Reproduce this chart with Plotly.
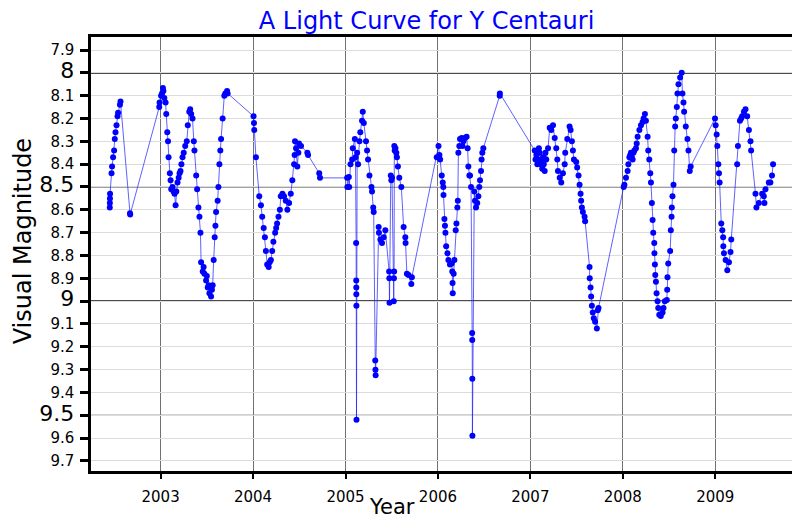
import plotly.graph_objects as go

# ---- observations (decimal year, visual magnitude) grouped by season ----
obs_2002 = [(2002.450, 8.59), (2002.451, 8.57), (2002.452, 8.55), (2002.453, 8.53),
            (2002.469, 8.44), (2002.475, 8.41), (2002.486, 8.37), (2002.497, 8.34),
            (2002.504, 8.29), (2002.512, 8.26), (2002.523, 8.23), (2002.534, 8.19),
            (2002.540, 8.175), (2002.560, 8.14), (2002.566, 8.126),
            (2002.669, 8.615), (2002.671, 8.62)]

obs_2003 = [(2002.985, 8.15), (2002.989, 8.13), (2003.005, 8.10), (2003.015, 8.09),
            (2003.025, 8.066), (2003.030, 8.08), (2003.040, 8.11), (2003.054, 8.13),
            (2003.061, 8.18), (2003.072, 8.26), (2003.080, 8.30), (2003.086, 8.37),
            (2003.100, 8.44), (2003.108, 8.47), (2003.115, 8.51), (2003.129, 8.50),
            (2003.140, 8.52), (2003.151, 8.53), (2003.162, 8.58), (2003.170, 8.52),
            (2003.183, 8.48), (2003.195, 8.46), (2003.205, 8.44), (2003.215, 8.43),
            (2003.225, 8.40), (2003.237, 8.37), (2003.250, 8.35), (2003.266, 8.32),
            (2003.283, 8.30), (2003.294, 8.23), (2003.310, 8.17), (2003.320, 8.16),
            (2003.331, 8.18), (2003.345, 8.20), (2003.359, 8.30), (2003.366, 8.34),
            (2003.385, 8.45), (2003.395, 8.51), (2003.409, 8.59), (2003.420, 8.63),
            (2003.431, 8.70), (2003.438, 8.83), (2003.456, 8.87), (2003.465, 8.85),
            (2003.474, 8.88), (2003.492, 8.91), (2003.500, 8.89), (2003.510, 8.94),
            (2003.520, 8.93), (2003.528, 8.965), (2003.546, 8.98), (2003.555, 8.95),
            (2003.563, 8.93), (2003.574, 8.82), (2003.585, 8.72), (2003.593, 8.67),
            (2003.600, 8.61), (2003.617, 8.56), (2003.625, 8.50), (2003.636, 8.40),
            (2003.646, 8.34), (2003.654, 8.29), (2003.671, 8.20), (2003.689, 8.10),
            (2003.700, 8.09), (2003.719, 8.08), (2003.725, 8.09)]

obs_2004 = [(2004.005, 8.19), (2004.010, 8.22), (2004.013, 8.25), (2004.031, 8.37),
            (2004.067, 8.54), (2004.085, 8.58), (2004.099, 8.63), (2004.115, 8.68),
            (2004.128, 8.72), (2004.139, 8.78), (2004.153, 8.84), (2004.169, 8.85),
            (2004.180, 8.83), (2004.193, 8.82), (2004.207, 8.78), (2004.220, 8.74),
            (2004.239, 8.70), (2004.250, 8.68), (2004.260, 8.66), (2004.275, 8.63),
            (2004.290, 8.60), (2004.300, 8.54), (2004.318, 8.53), (2004.335, 8.54),
            (2004.354, 8.56), (2004.371, 8.60), (2004.390, 8.57), (2004.408, 8.53),
            (2004.425, 8.47), (2004.444, 8.40), (2004.450, 8.36), (2004.454, 8.30),
            (2004.465, 8.33), (2004.479, 8.41), (2004.490, 8.35), (2004.497, 8.31),
            (2004.519, 8.32), (2004.587, 8.35), (2004.595, 8.36), (2004.716, 8.44),
            (2004.724, 8.46)]

obs_2005 = [(2005.018, 8.46), (2005.020, 8.50), (2005.036, 8.456), (2005.040, 8.50),
            (2005.054, 8.40), (2005.072, 8.38), (2005.079, 8.33), (2005.101, 8.29),
            (2005.108, 8.37), (2005.115, 8.745), (2005.116, 8.91), (2005.117, 8.94),
            (2005.117, 8.97), (2005.118, 9.02), (2005.119, 9.52), (2005.126, 8.35),
            (2005.136, 8.40), (2005.151, 8.30), (2005.160, 8.26), (2005.179, 8.21),
            (2005.187, 8.17), (2005.198, 8.22), (2005.222, 8.30), (2005.233, 8.34),
            (2005.244, 8.38), (2005.259, 8.45), (2005.281, 8.50), (2005.287, 8.52),
            (2005.300, 8.59), (2005.305, 8.61), (2005.322, 9.26), (2005.324, 9.30),
            (2005.326, 9.325), (2005.359, 8.675), (2005.362, 8.70), (2005.378, 8.73),
            (2005.395, 8.745), (2005.413, 8.72), (2005.431, 8.69), (2005.472, 8.87),
            (2005.474, 8.90), (2005.476, 9.007), (2005.490, 8.45), (2005.496, 8.47),
            (2005.503, 8.46), (2005.522, 9.00), (2005.524, 8.90), (2005.526, 8.87),
            (2005.528, 8.32), (2005.532, 8.34), (2005.540, 8.33), (2005.550, 8.35),
            (2005.556, 8.37), (2005.567, 8.41), (2005.582, 8.46), (2005.604, 8.50),
            (2005.629, 8.675), (2005.647, 8.72), (2005.650, 8.745), (2005.664, 8.88),
            (2005.682, 8.885), (2005.712, 8.925), (2005.718, 8.895)]

obs_2006 = [(2005.987, 8.37), (2006.006, 8.32), (2006.016, 8.36), (2006.024, 8.38),
            (2006.041, 8.45), (2006.052, 8.48), (2006.058, 8.50), (2006.060, 8.535),
            (2006.070, 8.64), (2006.076, 8.67), (2006.081, 8.70), (2006.089, 8.76),
            (2006.103, 8.79), (2006.113, 8.82), (2006.130, 8.84), (2006.149, 8.835),
            (2006.155, 8.87), (2006.158, 8.92), (2006.160, 8.965), (2006.170, 8.88),
            (2006.178, 8.82), (2006.192, 8.69), (2006.200, 8.66), (2006.210, 8.59),
            (2006.215, 8.56), (2006.221, 8.35), (2006.231, 8.32), (2006.239, 8.29),
            (2006.257, 8.285), (2006.265, 8.32), (2006.275, 8.30), (2006.293, 8.285),
            (2006.310, 8.28), (2006.321, 8.33), (2006.329, 8.41), (2006.340, 8.45),
            (2006.347, 8.45), (2006.358, 8.50), (2006.370, 9.14), (2006.371, 9.17),
            (2006.372, 9.34), (2006.373, 9.59), (2006.393, 8.52), (2006.401, 8.56),
            (2006.412, 8.59), (2006.425, 8.57), (2006.437, 8.54), (2006.447, 8.50),
            (2006.455, 8.47), (2006.466, 8.43), (2006.472, 8.38), (2006.480, 8.35),
            (2006.491, 8.33), (2006.668, 8.10), (2006.670, 8.09)]

obs_2007 = [(2007.047, 8.34), (2007.055, 8.38), (2007.065, 8.36), (2007.075, 8.40),
            (2007.083, 8.38), (2007.092, 8.33), (2007.101, 8.35), (2007.110, 8.40),
            (2007.119, 8.38), (2007.128, 8.42), (2007.137, 8.37), (2007.145, 8.40),
            (2007.155, 8.43), (2007.163, 8.35), (2007.172, 8.38), (2007.191, 8.33),
            (2007.209, 8.24), (2007.226, 8.25), (2007.245, 8.23), (2007.263, 8.285),
            (2007.280, 8.33), (2007.291, 8.38), (2007.298, 8.43), (2007.317, 8.46),
            (2007.334, 8.48), (2007.352, 8.44), (2007.371, 8.40), (2007.377, 8.35),
            (2007.399, 8.29), (2007.424, 8.235), (2007.435, 8.25), (2007.449, 8.30),
            (2007.460, 8.34), (2007.471, 8.38), (2007.496, 8.39), (2007.506, 8.415),
            (2007.521, 8.45), (2007.532, 8.49), (2007.543, 8.53), (2007.549, 8.56),
            (2007.557, 8.59), (2007.568, 8.61), (2007.586, 8.63), (2007.592, 8.65),
            (2007.640, 8.85), (2007.642, 8.90), (2007.651, 8.94), (2007.657, 8.98),
            (2007.665, 9.02), (2007.675, 9.05), (2007.686, 9.075), (2007.700, 9.09),
            (2007.719, 9.12), (2007.729, 9.04), (2007.737, 9.03)]

obs_2008 = [(2008.009, 8.50), (2008.017, 8.49), (2008.034, 8.46), (2008.052, 8.43),
            (2008.060, 8.40), (2008.071, 8.37), (2008.080, 8.36), (2008.088, 8.35),
            (2008.097, 8.37), (2008.106, 8.38), (2008.115, 8.35), (2008.125, 8.34),
            (2008.142, 8.33), (2008.150, 8.31), (2008.160, 8.28), (2008.179, 8.25),
            (2008.196, 8.23), (2008.214, 8.215), (2008.225, 8.20), (2008.239, 8.18),
            (2008.250, 8.21), (2008.268, 8.28), (2008.275, 8.34), (2008.286, 8.38),
            (2008.297, 8.44), (2008.304, 8.48), (2008.314, 8.57), (2008.322, 8.645),
            (2008.329, 8.70), (2008.340, 8.745), (2008.342, 8.79), (2008.347, 8.84),
            (2008.351, 8.885), (2008.358, 8.915), (2008.365, 8.965), (2008.376, 9.00),
            (2008.383, 9.03), (2008.394, 9.06), (2008.411, 9.065), (2008.430, 9.05),
            (2008.440, 9.03), (2008.454, 9.00), (2008.476, 8.995), (2008.480, 8.95),
            (2008.483, 8.895), (2008.491, 8.835), (2008.512, 8.78), (2008.519, 8.69),
            (2008.527, 8.63), (2008.530, 8.59), (2008.537, 8.54), (2008.548, 8.49),
            (2008.556, 8.34), (2008.566, 8.235), (2008.573, 8.20), (2008.584, 8.15),
            (2008.591, 8.09), (2008.602, 8.05), (2008.620, 8.02), (2008.637, 8.00),
            (2008.645, 8.09), (2008.656, 8.13), (2008.663, 8.17), (2008.681, 8.235),
            (2008.699, 8.29), (2008.710, 8.34), (2008.724, 8.43), (2008.734, 8.41)]

obs_2009 = [(2008.997, 8.20), (2009.004, 8.23), (2009.015, 8.27), (2009.022, 8.32),
            (2009.033, 8.40), (2009.040, 8.44), (2009.047, 8.48), (2009.065, 8.66),
            (2009.076, 8.69), (2009.085, 8.72), (2009.087, 8.76), (2009.094, 8.79),
            (2009.112, 8.82), (2009.130, 8.865), (2009.148, 8.83), (2009.165, 8.785),
            (2009.173, 8.73), (2009.237, 8.40), (2009.245, 8.32), (2009.267, 8.21),
            (2009.280, 8.20), (2009.291, 8.19), (2009.310, 8.17), (2009.327, 8.16),
            (2009.345, 8.19), (2009.364, 8.25), (2009.381, 8.30), (2009.388, 8.34),
            (2009.435, 8.53), (2009.445, 8.59), (2009.471, 8.57), (2009.507, 8.53),
            (2009.525, 8.54), (2009.532, 8.57), (2009.543, 8.51), (2009.579, 8.48),
            (2009.596, 8.48), (2009.614, 8.45), (2009.625, 8.40)]

year_ticks = [2003, 2004, 2005, 2006, 2007, 2008, 2009]
mag_ticks = [7.9, 8.0, 8.1, 8.2, 8.3, 8.4, 8.5, 8.6, 8.7, 8.8, 8.9,
             9.0, 9.1, 9.2, 9.3, 9.4, 9.5, 9.6, 9.7]
major_mags = [8.0, 8.5, 9.0, 9.5]

# ---- build ----
observations = obs_2002 + obs_2003 + obs_2004 + obs_2005 + obs_2006 + obs_2007 + obs_2008 + obs_2009
years = [o[0] for o in observations]
mags = [o[1] for o in observations]


def mag_label(v):
    txt = f"{v:g}"
    if v in major_mags:
        return f"<span style='font-size:22px'>{txt}</span>"
    return txt


# page body adds an 8px offset; the figure is sized to compensate
W, H = 792, 512
ML, MR, MT, MB = 83, 5, 29, 49
PW, PH = W - ML - MR, H - MT - MB

fig = go.Figure()
fig.add_trace(go.Scatter(
    x=years, y=mags, mode="lines+markers",
    line=dict(color="rgba(30,30,255,0.7)", width=1),
    marker=dict(color="#0000ff", size=6, line=dict(width=0)),
    hoverinfo="x+y",
))

for m in major_mags:
    fig.add_shape(type="line", xref="paper", x0=0, x1=1, yref="y", y0=m, y1=m,
                  line=dict(color="#111111" if m in (8.0, 9.0) else "#444444",
                            width=1.6 if m in (8.0, 9.0) else 1.1),
                  layer="between")

fig.update_layout(
    width=W, height=H,
    margin=dict(l=ML, r=MR, t=MT, b=MB, pad=0),
    paper_bgcolor="white", plot_bgcolor="white",
    showlegend=False,
    font=dict(family="DejaVu Sans", color="black", size=15),
    title=dict(text="A Light Curve for Y Centauri",
               font=dict(size=24, color="#0000ff", family="DejaVu Sans"),
               xref="paper", x=(428 - 91) / PW, xanchor="center",
               yref="container", y=1 - 13 / H, yanchor="middle"),
    xaxis=dict(range=[2002.247, 2009.83], tickmode="array",
               tickvals=year_ticks, ticktext=[str(y) for y in year_ticks],
               showgrid=True, gridcolor="#707070", gridwidth=1.2,
               showline=True, linecolor="black", linewidth=2.5, mirror=True,
               ticks="outside", ticklen=5, tickwidth=2, tickcolor="black",
               tickfont=dict(size=15), ticklabelstandoff=5, zeroline=False),
    yaxis=dict(range=[9.744, 7.843], tickmode="array",
               tickvals=mag_ticks, ticktext=[mag_label(v) for v in mag_ticks],
               showgrid=True, gridcolor="#dcdcdc", gridwidth=1.2,
               showline=True, linecolor="black", linewidth=2.5, mirror=True,
               ticks="outside", ticklen=8, tickwidth=2.5, tickcolor="black",
               tickfont=dict(size=15), ticklabelstandoff=3, zeroline=False),
    annotations=[
        dict(text="Visual Magnitude", textangle=-90, xref="paper", yref="paper",
             x=-(91 - 23) / PW, y=(471 - 241) / PH, xanchor="center", yanchor="middle",
             showarrow=False, font=dict(size=24, color="black")),
        dict(text="Year", xref="paper", yref="paper",
             x=(393 - 91) / PW, y=(471 - 507) / PH, xanchor="center", yanchor="middle",
             showarrow=False, font=dict(size=21, color="black")),
    ],
)

fig.write_html("out.html")
